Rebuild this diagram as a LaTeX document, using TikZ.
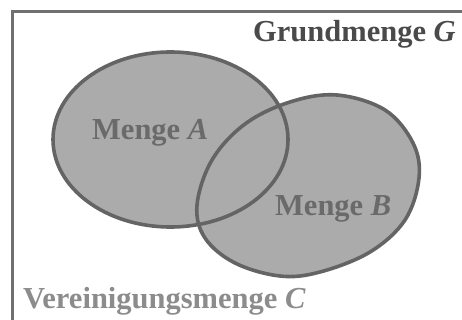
\documentclass[tikz,border=0pt]{standalone}
\usepackage{fontspec}
\setmainfont{Liberation Serif}
\definecolor{setfill}{HTML}{ABABAB}
\definecolor{setline}{HTML}{646464}
\definecolor{framecol}{HTML}{707070}
\definecolor{labeldark}{HTML}{4A4A4A}
\definecolor{labelmid}{HTML}{6A6A6A}
\definecolor{labellight}{HTML}{8C8C8C}
\tikzset{
  setshape/.style={fill=setfill},
  setoutline/.style={draw=setline, line width=3.6pt},
  setlabel/.style={inner sep=0pt, anchor=base west, font=\fontsize{30.5}{31}\selectfont\bfseries},
}
\begin{document}
\begin{tikzpicture}[x=1pt,y=-1pt]
  \useasboundingbox (0,0) rectangle (462,320);
  \fill[white] (0,0) rectangle (462,320);
  \begin{scope}
    \clip (0,0) rectangle (462,320);
    % outer frame of the universal set
    \draw[framecol, line width=2.4pt] (12.5,11.5) rectangle (480,340);
  \end{scope}
  % set A and set B, filled first, outlines on top
  \def\setA{(170.5,139.5) ellipse [x radius=117.5, y radius=87.5]}
  \def\setB{plot[smooth cycle, tension=0.6] coordinates {
      (197,205) (212,160) (245,124) (290,102) (337,95) (385,110)
      (413,143) (419,178) (405,220) (370,252) (320,272) (280,276)
      (235,263) (205,238)}}
  \fill[setshape] \setA;
  \fill[setshape] \setB;
  \draw[setoutline] \setA;
  \draw[setoutline] \setB;
  % labels
  \node[setlabel, text=labeldark] (g) at (253,42) {Grundmenge \itshape G};
  \node[setlabel, text=labelmid] (a) at (92,140) {Menge \itshape A};
  \node[setlabel, text=labelmid] (b) at (275,215) {Menge \itshape B};
  \node[setlabel, text=labellight] (c) at (23,308) {Vereinigungsmenge \itshape C};
\end{tikzpicture}
\end{document}
